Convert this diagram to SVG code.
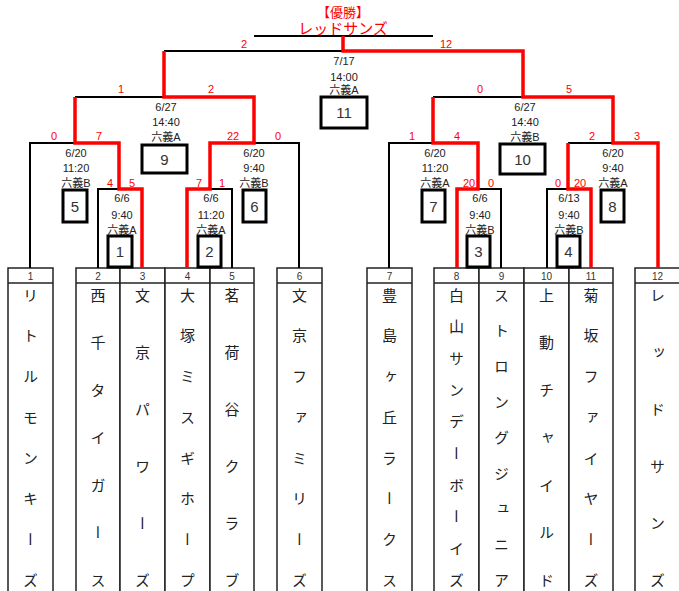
<svg xmlns="http://www.w3.org/2000/svg" width="679" height="591" viewBox="0 0 679 591">
<style>
.k{stroke:#000;stroke-width:2;fill:none}
.r{stroke:#f00;stroke-width:3.5;fill:none}
.box{stroke:#000;stroke-width:3;fill:#fff}
.col{stroke:#222;stroke-width:1.5;fill:#fff}
.hl{stroke:#222;stroke-width:1.5}
.info{font-family:"Liberation Sans","Noto Sans CJK JP",sans-serif;font-size:11px;fill:#222;text-anchor:middle}
.sc{font-family:"Liberation Sans",sans-serif;font-size:11px;fill:#f00;text-anchor:middle}
.bn{font-family:"Liberation Sans",sans-serif;font-size:15px;fill:#333;text-anchor:middle}
.hn{font-family:"Liberation Sans",sans-serif;font-size:10px;fill:#333;text-anchor:middle}
.tn{font-family:"Noto Sans CJK JP",sans-serif;font-size:15px;fill:#222;writing-mode:vertical-rl}
.w1{font-family:"Noto Sans CJK JP",sans-serif;font-size:13px;fill:#f00;text-anchor:middle}
.w2{font-family:"Noto Sans CJK JP",sans-serif;font-size:15px;fill:#f00;text-anchor:middle}
</style>
<rect width="679" height="591" fill="#fff"/>

<g id="champion">
<text class="w1" x="343" y="17">【優勝】</text>
<text class="w2" x="343" y="34">レッドサンズ</text>
</g>

<g id="teams">
<g id="team1"><rect class="col" x="8" y="268" width="45" height="340"/><line class="hl" x1="8" y1="283" x2="53" y2="283"/><text class="hn" x="30.5" y="280">1</text><text class="tn" x="30.5" y="287.5"><tspan letter-spacing="25.71">リトルモンキー</tspan>ズ</text></g>
<g id="team2"><rect class="col" x="76" y="268" width="44" height="340"/><line class="hl" x1="76" y1="283" x2="120" y2="283"/><text class="hn" x="98" y="280">2</text><text class="tn" x="98" y="287.5"><tspan letter-spacing="32.5">西千タイガー</tspan>ス</text></g>
<g id="team3"><rect class="col" x="120" y="268" width="45" height="340"/><line class="hl" x1="120" y1="283" x2="165" y2="283"/><text class="hn" x="142.5" y="280">3</text><text class="tn" x="142.5" y="287.5"><tspan letter-spacing="42">文京パワー</tspan>ズ</text></g>
<g id="team4"><rect class="col" x="165" y="268" width="45" height="340"/><line class="hl" x1="165" y1="283" x2="210" y2="283"/><text class="hn" x="187.5" y="280">4</text><text class="tn" x="187.5" y="287.5"><tspan letter-spacing="25.71">大塚ミスギホー</tspan>プ</text></g>
<g id="team5"><rect class="col" x="210" y="268" width="44" height="340"/><line class="hl" x1="210" y1="283" x2="254" y2="283"/><text class="hn" x="232" y="280">5</text><text class="tn" x="232" y="287.5"><tspan letter-spacing="42">茗荷谷クラ</tspan>ブ</text></g>
<g id="team6"><rect class="col" x="277" y="268" width="45" height="340"/><line class="hl" x1="277" y1="283" x2="322" y2="283"/><text class="hn" x="299.5" y="280">6</text><text class="tn" x="299.5" y="287.5"><tspan letter-spacing="25.71">文京ファミリー</tspan>ズ</text></g>
<g id="team7"><rect class="col" x="367" y="268" width="45" height="340"/><line class="hl" x1="367" y1="283" x2="412" y2="283"/><text class="hn" x="389.5" y="280">7</text><text class="tn" x="389.5" y="287.5"><tspan letter-spacing="25.71">豊島ヶ丘ラーク</tspan>ス</text></g>
<g id="team8"><rect class="col" x="434" y="268" width="45" height="340"/><line class="hl" x1="434" y1="283" x2="479" y2="283"/><text class="hn" x="456.5" y="280">8</text><text class="tn" x="456.5" y="287.5"><tspan letter-spacing="16.67">白山サンデーボーイ</tspan>ズ</text></g>
<g id="team9"><rect class="col" x="479" y="268" width="45" height="340"/><line class="hl" x1="479" y1="283" x2="524" y2="283"/><text class="hn" x="501.5" y="280">9</text><text class="tn" x="501.5" y="287.5"><tspan letter-spacing="20.63">ストロングジュニ</tspan>ア</text></g>
<g id="team10"><rect class="col" x="524" y="268" width="45" height="340"/><line class="hl" x1="524" y1="283" x2="569" y2="283"/><text class="hn" x="546.5" y="280">10</text><text class="tn" x="546.5" y="287.5"><tspan letter-spacing="32.5">上動チャイル</tspan>ド</text></g>
<g id="team11"><rect class="col" x="569" y="268" width="44" height="340"/><line class="hl" x1="569" y1="283" x2="613" y2="283"/><text class="hn" x="591" y="280">11</text><text class="tn" x="591" y="287.5"><tspan letter-spacing="25.71">菊坂ファイヤー</tspan>ズ</text></g>
<g id="team12"><rect class="col" x="635" y="268" width="46" height="340"/><line class="hl" x1="635" y1="283" x2="681" y2="283"/><text class="hn" x="657.5" y="280">12</text><text class="tn" x="657.5" y="287.5"><tspan letter-spacing="42">レッドサン</tspan>ズ</text></g>
</g>

<g id="connectors">
<path class="k" d="M254 36H433"/>
<path class="k" d="M164 51H343"/>
<path class="k" d="M75 97H164"/>
<path class="k" d="M30 268V143H75"/>
<path class="k" d="M98 268V189H119"/>
<path class="k" d="M254 143H299V268"/>
<path class="k" d="M210 189H232V268"/>
<path class="k" d="M433 97H523"/>
<path class="k" d="M389 268V143H433"/>
<path class="k" d="M478 189H501V268"/>
<path class="k" d="M568 143H613"/>
<path class="k" d="M547 268V189H568"/>
<path class="r" d="M343 36V51H523V97H613V143H658V268"/>
<path class="r" d="M164 51V97H254V143H210V189H187V268"/>
<path class="r" d="M75 97V143H119V189H142V268"/>
<path class="r" d="M433 97V143H478V189H457V268"/>
<path class="r" d="M568 143V189H591V268"/>
</g>

<g id="scores">
<text class="sc" x="244" y="48">2</text><text class="sc" x="446" y="48">12</text>
<text class="sc" x="121" y="93">1</text><text class="sc" x="211" y="93">2</text>
<text class="sc" x="480" y="93">0</text><text class="sc" x="569" y="93">5</text>
<text class="sc" x="54" y="140">0</text><text class="sc" x="99" y="140">7</text>
<text class="sc" x="233" y="140">22</text><text class="sc" x="278" y="140">0</text>
<text class="sc" x="412" y="140">1</text><text class="sc" x="457" y="140">4</text>
<text class="sc" x="592" y="140">2</text><text class="sc" x="637" y="140">3</text>
<text class="sc" x="110" y="187">4</text><text class="sc" x="132" y="187">5</text>
<text class="sc" x="199" y="187">7</text><text class="sc" x="222" y="187">1</text>
<text class="sc" x="469" y="187">20</text><text class="sc" x="491" y="187">0</text>
<text class="sc" x="558" y="187">0</text><text class="sc" x="580" y="187">20</text>
</g>

<g id="match11"><text class="info" x="344" y="65">7/17</text><text class="info" x="344" y="81">14:00</text><text class="info" x="344" y="94">六義A</text><rect class="box" x="321" y="97" width="46" height="31"/><text class="bn" x="344" y="118">11</text></g>
<g id="match9"><text class="info" x="166" y="111">6/27</text><text class="info" x="166" y="126">14:40</text><text class="info" x="166" y="141">六義A</text><rect class="box" x="142" y="145" width="45" height="28"/><text class="bn" x="164.5" y="164.5">9</text></g>
<g id="match10"><text class="info" x="525" y="111">6/27</text><text class="info" x="525" y="126">14:40</text><text class="info" x="525" y="141">六義B</text><rect class="box" x="500" y="144" width="45" height="30"/><text class="bn" x="522.5" y="164.5">10</text></g>
<g id="match5"><text class="info" x="76" y="157">6/20</text><text class="info" x="76" y="172">11:20</text><text class="info" x="76" y="187">六義B</text><rect class="box" x="63" y="190" width="24" height="32"/><text class="bn" x="75" y="211.5">5</text></g>
<g id="match6"><text class="info" x="254" y="157">6/20</text><text class="info" x="254" y="172">9:40</text><text class="info" x="254" y="187">六義B</text><rect class="box" x="243" y="190" width="23" height="32"/><text class="bn" x="254.5" y="211.5">6</text></g>
<g id="match7"><text class="info" x="435" y="157">6/20</text><text class="info" x="435" y="172">11:20</text><text class="info" x="435" y="187">六義A</text><rect class="box" x="422" y="190" width="23" height="32"/><text class="bn" x="433.5" y="211.5">7</text></g>
<g id="match8"><text class="info" x="613" y="157">6/20</text><text class="info" x="613" y="172">9:40</text><text class="info" x="613" y="187">六義A</text><rect class="box" x="601" y="190" width="23" height="32"/><text class="bn" x="612.5" y="211.5">8</text></g>
<g id="match1"><text class="info" x="122" y="202">6/6</text><text class="info" x="122" y="219">9:40</text><text class="info" x="122" y="234">六義A</text><rect class="box" x="108" y="236" width="24" height="31"/><text class="bn" x="120" y="257">1</text></g>
<g id="match2"><text class="info" x="211" y="202">6/6</text><text class="info" x="211" y="219">11:20</text><text class="info" x="211" y="234">六義A</text><rect class="box" x="198" y="236" width="23" height="31"/><text class="bn" x="209.5" y="257">2</text></g>
<g id="match3"><text class="info" x="480" y="202">6/6</text><text class="info" x="480" y="219">9:40</text><text class="info" x="480" y="234">六義B</text><rect class="box" x="467" y="236" width="23" height="31"/><text class="bn" x="478.5" y="257">3</text></g>
<g id="match4"><text class="info" x="569" y="202">6/13</text><text class="info" x="569" y="219">9:40</text><text class="info" x="569" y="234">六義B</text><rect class="box" x="557" y="236" width="23" height="31"/><text class="bn" x="568.5" y="257">4</text></g>
</svg>
